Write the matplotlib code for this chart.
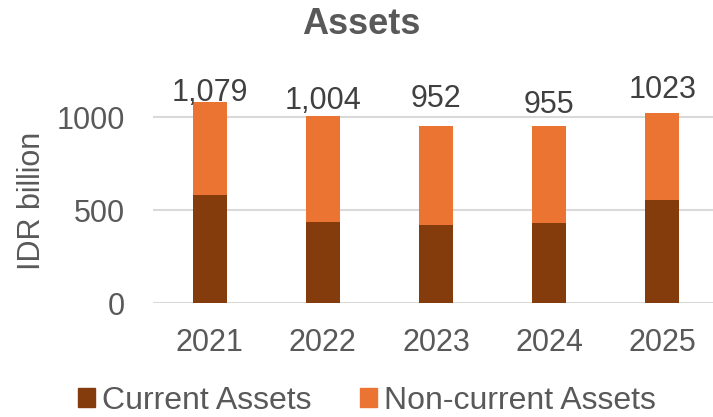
import matplotlib.pyplot as plt
from matplotlib.patches import Patch
import numpy as np

years = ["2021", "2022", "2023", "2024", "2025"]
current = [584, 438, 423, 429, 557]
totals = [1079, 1004, 952, 955, 1023]
total_labels = ["1,079", "1,004", "952", "955", "1023"]
noncurrent = [t - c for t, c in zip(totals, current)]

# label lift above each bar, in points (labels were placed by hand)
label_dy = [0.7, 5, 14, 9, 10.4]

plt.rcParams['font.family'] = ['Liberation Sans', 'DejaVu Sans']

dark = '#843C0C'
orange = '#EB7433'
grey = '#595959'

fig = plt.figure(figsize=(7.13, 4.17), dpi=100)
ax = fig.add_axes([153 / 713, 113.7 / 417, 566 / 713, 0.491])

x = np.arange(len(years))
ax.bar(x, current, width=0.3, color=dark, zorder=3)
ax.bar(x, noncurrent, width=0.3, bottom=current, color=orange, zorder=3)

for xi, t, lab, dy in zip(x, totals, total_labels, label_dy):
    ax.annotate(lab, (xi, t), xytext=(0, dy), textcoords='offset points',
                ha='center', va='baseline', fontsize=22, color='#404040')

ax.set_xlim(-0.5, 4.5)
ax.set_ylim(0, 1100)
ax.set_yticks([0, 500, 1000])
ax.set_xticks(x)
ax.set_xticklabels(years)
ax.tick_params(axis='both', length=0, labelsize=22, labelcolor=grey)
ax.tick_params(axis='x', pad=18)
ax.tick_params(axis='y', pad=20)
ax.grid(axis='y', color='#D9D9D9', linewidth=1.5, zorder=0)
for s in ax.spines.values():
    s.set_visible(False)

ax.set_ylabel('IDR billion', fontsize=22, color=grey, labelpad=7)

fig.text(361 / 713, 1 - 24 / 417, 'Assets', ha='center', va='center',
         fontsize=26, fontweight='bold', color=grey)

handles = [Patch(color=dark, label='Current Assets'),
           Patch(color=orange, label='Non-current Assets')]
fig.legend(handles=handles, loc='center', ncol=2, frameon=False,
           bbox_to_anchor=(367 / 713, 1 - 401 / 417), fontsize=23,
           labelcolor=grey, handlelength=0.53, handleheight=0.53,
           handletextpad=0.22, columnspacing=1.5)

fig.savefig('out.png', dpi=100)
